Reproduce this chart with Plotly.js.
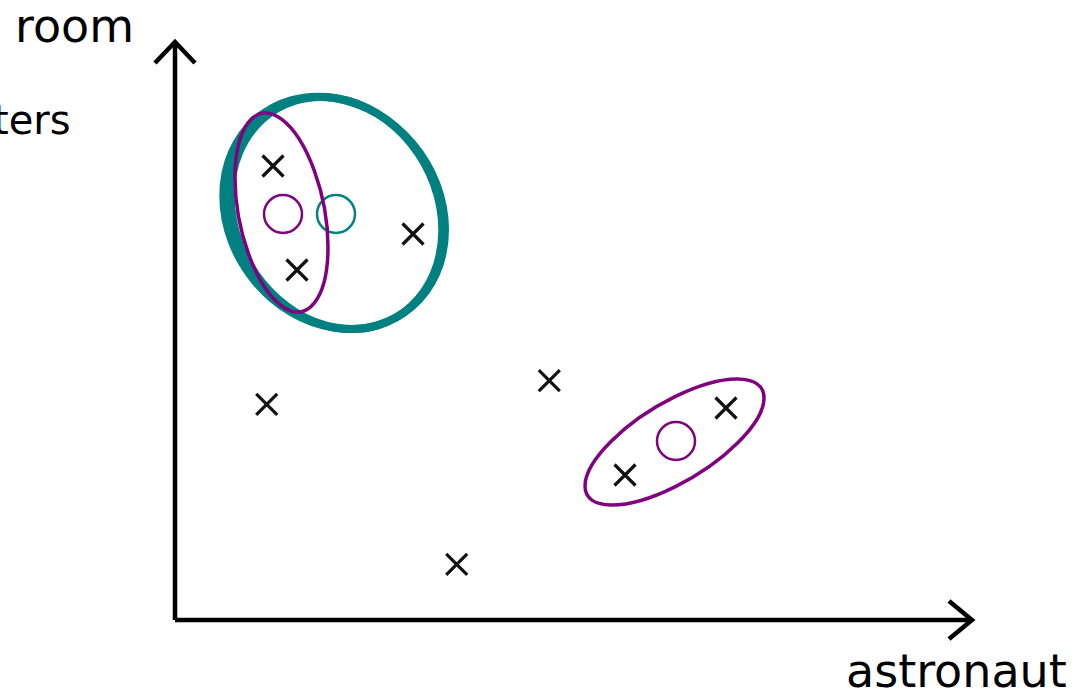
<!DOCTYPE html>
<html>
<head>
<meta charset="utf-8">
<script src="https://cdn.plot.ly/plotly-3.0.1.min.js"></script>
<style>html,body{margin:0;padding:0;background:#fff;}#chart{width:1088px;height:691px;}</style>
</head>
<body>
<div id="chart"></div>
<script>
// ---- data (axis units: origin at the corner of the two axes) ----
const crossX = [0.98, 1.22, 2.38, 0.917, 3.743, 2.817, 4.50, 5.51];
const crossY = [4.54, 3.50, 3.86, 2.157, 2.393, 0.557, 1.45, 2.12];

const purpleCentroidX = [1.08, 5.01];
const purpleCentroidY = [4.06, 1.79];
const tealCentroidX = [1.61];
const tealCentroidY = [4.06];

// ellipses: centre x, centre y, half-width, half-height, y-offset of rightmost point
const tealEllipseOuter = [1.5915, 4.0715, 1.1085, 1.1615, -0.17];
const tealEllipseInner = [1.615, 4.07, 1.058, 1.16, -0.17];
const purpleEllipseA = [1.065, 4.075, 0.465, 0.995, -0.345];
const purpleEllipseB = [4.995, 1.78, 0.895, 0.63, 0.44];

// axis arrows
const xAxisLineX = [0, 7.97];
const xAxisLineY = [0, 0];
const xArrowX = [7.74, 7.97, 7.74];
const xArrowY = [0.19, 0, -0.19];
const yAxisLineX = [0, 0];
const yAxisLineY = [0, 5.78];
const yArrowX = [-0.20, 0, 0.20];
const yArrowY = [5.57, 5.78, 5.57];

const labelTexts = ["room", "ters", "astronaut"];

// ---- build ellipse path (affine image of a unit circle via cubic Béziers) ----
function ellipsePath(p) {
  const [cx, cy, W, H, s] = p;
  const r = Math.sqrt(Math.max(H * H - s * s, 1e-6));
  const k = 0.5522847;
  const T = (u, v) => [cx + W * u, cy + s * u + r * v];
  const pts = [[1,0],[1,k],[k,1],[0,1],[-k,1],[-1,k],[-1,0],[-1,-k],[-k,-1],[0,-1],[k,-1],[1,-k],[1,0]];
  const q = pts.map(a => T(a[0], a[1]));
  let d = 'M' + q[0][0] + ',' + q[0][1];
  for (let i = 1; i < q.length; i += 3) {
    d += ' C' + q[i][0] + ',' + q[i][1] + ' ' + q[i+1][0] + ',' + q[i+1][1] + ' ' + q[i+2][0] + ',' + q[i+2][1];
  }
  return d + ' Z';
}
function ellipseShape(p, color, width) {
  return {type: 'path', xref: 'x', yref: 'y', path: ellipsePath(p),
          line: {color: color, width: width}, fillcolor: 'rgba(0,0,0,0)', layer: 'above'};
}

const TEAL = '#008080', PURPLE = '#800080', INK = '#111111';

const axisLine = {color: '#000', width: 4.5};
const traces = [
  {x: xAxisLineX, y: xAxisLineY, mode: 'lines', line: axisLine, hoverinfo: 'skip'},
  {x: xArrowX, y: xArrowY, mode: 'lines', line: axisLine, hoverinfo: 'skip'},
  {x: yAxisLineX, y: yAxisLineY, mode: 'lines', line: axisLine, hoverinfo: 'skip'},
  {x: yArrowX, y: yArrowY, mode: 'lines', line: axisLine, hoverinfo: 'skip'},
  {x: crossX, y: crossY, mode: 'markers',
   marker: {symbol: 'x-thin-open', size: 21, color: INK, line: {color: INK, width: 3.2}}},
  {x: purpleCentroidX, y: purpleCentroidY, mode: 'markers',
   marker: {symbol: 'circle-open', size: 38, color: PURPLE, line: {color: PURPLE, width: 2.5}}},
  {x: tealCentroidX, y: tealCentroidY, mode: 'markers',
   marker: {symbol: 'circle-open', size: 38, color: TEAL, line: {color: TEAL, width: 2.5}}}
];

const font = {family: 'DejaVu Sans, sans-serif', size: 46, color: '#000'};
const fontSmall = {family: 'DejaVu Sans, sans-serif', size: 40, color: '#000'};
const layout = {
  width: 1088, height: 691,
  margin: {l: 0, r: 0, t: 0, b: 0, pad: 0},
  paper_bgcolor: '#fff', plot_bgcolor: '#fff',
  showlegend: false,
  xaxis: {range: [-1.75, 9.13], visible: false, fixedrange: true},
  yaxis: {range: [-0.71, 6.20], visible: false, fixedrange: true},
  shapes: [
    ellipseShape(tealEllipseOuter, TEAL, 8),
    ellipseShape(tealEllipseInner, TEAL, 8),
    ellipseShape(purpleEllipseA, PURPLE, 3.5),
    ellipseShape(purpleEllipseB, PURPLE, 3.5)
  ],
  annotations: [
    {text: labelTexts[0], x: -1.01, y: 5.94, xref: 'x', yref: 'y', showarrow: false,
     xanchor: 'center', yanchor: 'middle', font: font},
    {text: labelTexts[1], x: -1.025, y: 5.005, xref: 'x', yref: 'y', showarrow: false,
     xanchor: 'right', yanchor: 'middle', font: fontSmall},
    {text: labelTexts[2], x: 7.815, y: -0.51, xref: 'x', yref: 'y', showarrow: false,
     xanchor: 'center', yanchor: 'middle', font: font}
  ]
};
Plotly.newPlot('chart', traces, layout, {staticPlot: true, displayModeBar: false});
</script>
</body>
</html>
